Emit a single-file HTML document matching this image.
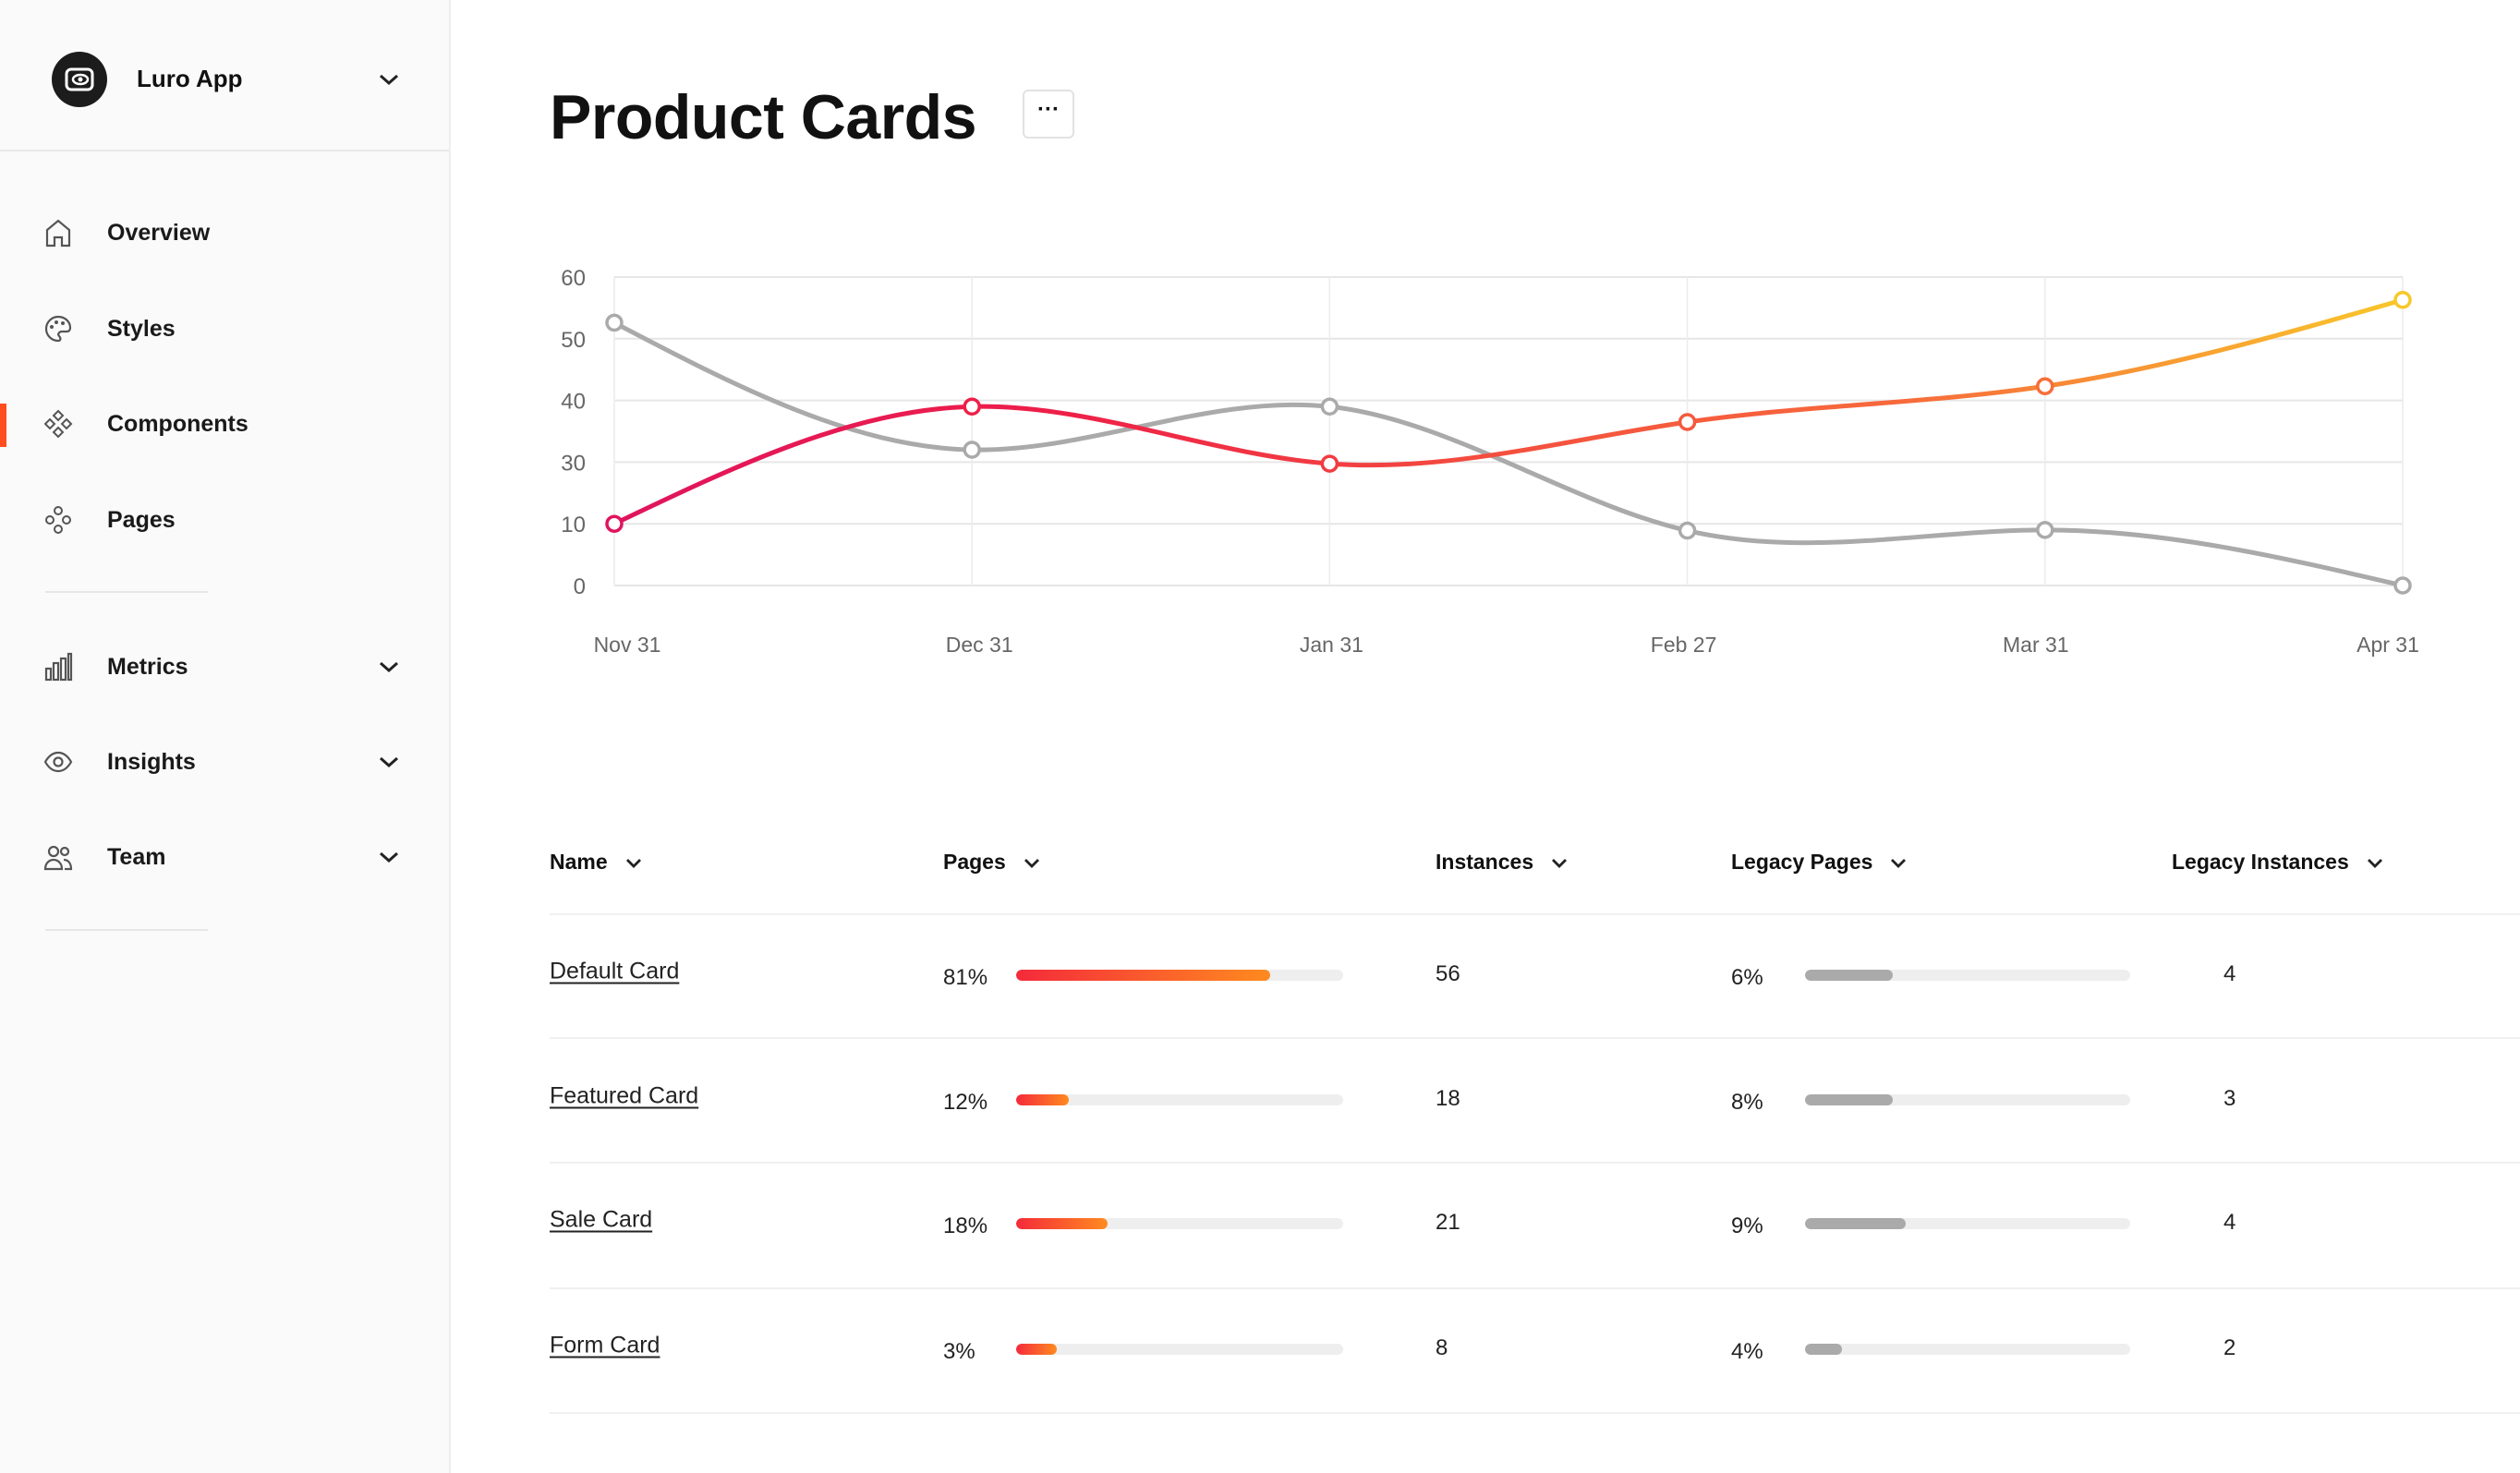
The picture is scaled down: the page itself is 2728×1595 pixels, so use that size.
<!DOCTYPE html>
<html><head><meta charset="utf-8"><style>
*{box-sizing:border-box;margin:0;padding:0}
body{width:2728px;height:1595px;background:#fff;font-family:"Liberation Sans",sans-serif;color:#111;position:relative;overflow:hidden}
.abs{position:absolute}
#sidebar{left:0;top:0;width:488px;height:1595px;background:#fafafa;border-right:2px solid #eee}
.nav{position:absolute;left:0;width:488px;height:60px;display:flex;align-items:center}
.nav svg{position:absolute;left:47px;top:14px}
.nav span{position:absolute;left:116px;font-size:25px;font-weight:bold;color:#1a1a1a}
.chev{position:absolute;left:408px;top:20px}
.div{position:absolute;left:49px;width:176px;height:2px;background:#e6e6e6}
.th{position:absolute;top:920px;font-size:23px;font-weight:bold;color:#111;white-space:nowrap}
.th svg{margin-left:18px;vertical-align:middle}
.rowline{position:absolute;left:595px;right:0;height:2px;background:#f0f0f0}
.cell{position:absolute;font-size:24px;color:#222;transform:translateY(-50%)}
.link{text-decoration:underline;text-underline-offset:4px;font-size:25px}
.track{position:absolute;height:12px;border-radius:6px;background:#eeeeee;overflow:hidden;transform:translateY(-50%)}
.fill{height:100%;border-radius:6px}
</style></head><body>
<div id="sidebar" class="abs">
  <div class="abs" style="left:0;top:162px;width:486px;height:2px;background:#e8e8e8"></div>
  <svg class="abs" style="left:56px;top:56px" width="60" height="60"><circle cx="30" cy="30" r="30" fill="#1c1c1c"/><rect x="16" y="19" width="28" height="22" rx="5" fill="none" stroke="#fff" stroke-width="3"/><ellipse cx="31" cy="30" rx="8" ry="5" fill="none" stroke="#fff" stroke-width="2.5"/><circle cx="31" cy="30" r="2.5" fill="#fff"/></svg>
  <div class="abs" style="left:148px;top:70px;font-size:26px;font-weight:bold">Luro App</div>
  <svg class="abs" style="left:408px;top:78px" width="26" height="16"><path d="M4 4l9 8 9-8" fill="none" stroke="#222" stroke-width="3"/></svg>

  <div class="nav" style="top:222px"><svg width="32" height="32"><path d="M4 30V13L16 3l12 10v17h-8v-9h-8v9z" fill="none" stroke="#555" stroke-width="2.2"/></svg><span>Overview</span></div>
  <div class="nav" style="top:326px"><svg width="32" height="32"><path d="M16 3a13 13 0 1 0 0 26c3 0 3-3 1-5s0-5 3-5h5c3 0 4-2 4-4C29 8 23 3 16 3z" fill="none" stroke="#555" stroke-width="2.2"/><circle cx="9" cy="14" r="2" fill="#555"/><circle cx="14" cy="9" r="2" fill="#555"/><circle cx="21" cy="10" r="2" fill="#555"/></svg><span>Styles</span></div>
  <div class="abs" style="left:0;top:437px;width:7px;height:47px;background:#ff4d1f"></div>
  <div class="nav" style="top:429px"><svg width="32" height="32"><g fill="none" stroke="#555" stroke-width="2"><path d="M16 2l5 5-5 5-5-5z"/><path d="M16 20l5 5-5 5-5-5z"/><path d="M7 11l5 5-5 5-5-5z"/><path d="M25 11l5 5-5 5-5-5z"/></g></svg><span>Components</span></div>
  <div class="nav" style="top:533px"><svg width="32" height="32"><g fill="none" stroke="#555" stroke-width="2"><circle cx="16" cy="6" r="4"/><circle cx="16" cy="26" r="4"/><circle cx="7" cy="16" r="4"/><circle cx="25" cy="16" r="4"/></g></svg><span>Pages</span></div>
  <div class="div" style="top:640px"></div>
  <div class="nav" style="top:692px"><svg width="32" height="32"><g fill="none" stroke="#555" stroke-width="2.2"><rect x="3" y="18" width="5" height="12"/><rect x="11" y="12" width="5" height="18"/><rect x="19" y="7" width="5" height="23"/><rect x="27" y="2" width="3" height="28"/></g></svg><span>Metrics</span><svg class="chev" style="left:408px;top:22px" width="26" height="16"><path d="M4 4l9 8 9-8" fill="none" stroke="#222" stroke-width="3"/></svg></div>
  <div class="nav" style="top:795px"><svg width="32" height="32"><path d="M2 16c4-7 9-10 14-10s10 3 14 10c-4 7-9 10-14 10S6 23 2 16z" fill="none" stroke="#555" stroke-width="2.2"/><circle cx="16" cy="16" r="4.5" fill="none" stroke="#555" stroke-width="2.2"/></svg><span>Insights</span><svg class="chev" style="left:408px;top:22px" width="26" height="16"><path d="M4 4l9 8 9-8" fill="none" stroke="#222" stroke-width="3"/></svg></div>
  <div class="nav" style="top:898px"><svg width="32" height="32"><g fill="none" stroke="#555" stroke-width="2.2"><circle cx="11" cy="10" r="5"/><path d="M2 29c0-6 4-10 9-10s9 4 9 10z"/><circle cx="23" cy="10" r="4"/><path d="M22 19c5 0 8 4 8 10h-7"/></g></svg><span>Team</span><svg class="chev" style="left:408px;top:22px" width="26" height="16"><path d="M4 4l9 8 9-8" fill="none" stroke="#222" stroke-width="3"/></svg></div>
  <div class="div" style="top:1006px"></div>
</div>

<div class="abs" style="left:595px;top:88px;font-size:68px;font-weight:bold;letter-spacing:-0.5px">Product Cards</div>
<div class="abs" style="left:1107px;top:97px;width:56px;height:53px;border:2px solid #e2e2e2;border-radius:6px;text-align:center;line-height:40px;font-size:24px;font-weight:bold">···</div>

<svg id="chart" class="abs" style="left:0;top:0" width="2728" height="760">
  <defs>
    <linearGradient id="redgrad" gradientUnits="userSpaceOnUse" x1="665" y1="0" x2="2601" y2="0">
      <stop offset="0" stop-color="#e0145e"/><stop offset="0.25" stop-color="#ee1f48"/><stop offset="0.5" stop-color="#f4503e"/><stop offset="0.72" stop-color="#f76a3c"/><stop offset="1" stop-color="#f9c72a"/>
    </linearGradient>
  </defs>
  <g id="grid"></g><g id="lines"></g><g id="labels"></g>
</svg>

<div id="table"></div>

<script>
const categories = ["Nov 31","Dec 31","Jan 31","Feb 27","Mar 31","Apr 31"];
const legacySeries = [52.6, 32, 39, 8.9, 9, 0];
const currentSeries = [10, 39, 29.5, 36.5, 42.3, 56.3];
const yTicks = [0, 10, 30, 40, 50, 60];

const rowNames = ["Default Card","Featured Card","Sale Card","Form Card"];
const pagesPct = [81, 12, 18, 3];
const pagesFill = [0.776, 0.16, 0.28, 0.125];
const instances = [56, 18, 21, 8];
const legacyPct = [6, 8, 9, 4];
const legacyFill = [0.27, 0.27, 0.31, 0.115];
const legacyInstances = [4, 3, 4, 2];

const NS = "http://www.w3.org/2000/svg";
const X0 = 665, X1 = 2601, YB = 634, YT = 300;
function x(i){ return X0 + (X1 - X0) * i / (categories.length - 1); }
function y(v){
  const step = (YB - YT) / (yTicks.length - 1);
  for (let k = 0; k < yTicks.length - 1; k++) {
    if (v <= yTicks[k+1] || k === yTicks.length - 2) {
      const t = (v - yTicks[k]) / (yTicks[k+1] - yTicks[k]);
      return YB - step * (k + t);
    }
  }
}
function mk(tag, attrs, parent){ const e = document.createElementNS(NS, tag); for (const k in attrs) e.setAttribute(k, attrs[k]); parent.appendChild(e); return e; }

const grid = document.getElementById('grid');
yTicks.forEach((t) => {
  const gl = mk('line', {x1: X0, x2: X1, y1: y(t), y2: y(t), stroke: '#e6e6e6', 'stroke-width': 2}, grid);
  
  
  const tl = mk('text', {x: 634, y: y(t) + 9, 'text-anchor': 'end', 'font-size': 24, fill: '#666', 'font-family': 'Liberation Sans, sans-serif'}, grid);
  tl.textContent = t;
  
  
});
categories.forEach((c, i) => {
  const vl = mk('line', {x1: x(i), x2: x(i), y1: YT, y2: YB, stroke: '#ececec', 'stroke-width': 1.5}, grid);
  
  
  const lab = mk('text', {x: x(i) + 14 - i * 6, y: 706, 'text-anchor': 'middle', 'font-size': 23, fill: '#666', 'font-family': 'Liberation Sans, sans-serif'}, document.getElementById('labels'));
  lab.textContent = c;
  
  
});

// natural cubic spline control points (as in d3.curveNatural)
function controlPoints(p){
  const n = p.length - 1, a = new Array(n), b = new Array(n), r = new Array(n);
  a[0] = 0; b[0] = 2; r[0] = p[0] + 2 * p[1];
  for (let i = 1; i < n - 1; ++i) { a[i] = 1; b[i] = 4; r[i] = 4 * p[i] + 2 * p[i + 1]; }
  a[n - 1] = 2; b[n - 1] = 7; r[n - 1] = 8 * p[n - 1] + p[n];
  for (let i = 1; i < n; ++i) { const m = a[i] / b[i - 1]; b[i] -= m; r[i] -= m * r[i - 1]; }
  a[n - 1] = r[n - 1] / b[n - 1];
  for (let i = n - 2; i >= 0; --i) a[i] = (r[i] - a[i + 1]) / b[i];
  b[n - 1] = (p[n] + a[n - 1]) / 2;
  for (let i = 0; i < n - 1; ++i) b[i] = 2 * p[i + 1] - a[i + 1];
  return [a, b];
}
function naturalPath(vals){
  const px = vals.map((v, i) => x(i)), py = vals.map(v => y(v));
  const cx = controlPoints(px), cy = controlPoints(py);
  let d = `M${px[0]},${py[0]}`;
  for (let i = 0; i < px.length - 1; i++) {
    d += `C${cx[0][i]},${cy[0][i]} ${cx[1][i]},${cy[1][i]} ${px[i+1]},${py[i+1]}`;
  }
  return d;
}
const lines = document.getElementById('lines');
const grayLine = mk('path', {d: naturalPath(legacySeries), fill: 'none', stroke: '#aaaaaa', 'stroke-width': 5}, lines);


const redLine = mk('path', {d: naturalPath(currentSeries), fill: 'none', stroke: 'url(#redgrad)', 'stroke-width': 5}, lines);


const gradColors = ['#e0145e', '#ee1f48', '#f13c40', '#f4593d', '#f66e3a', '#f9c72a'];
legacySeries.forEach((v, i) => {
  const c = mk('circle', {cx: x(i), cy: y(v), r: 8, fill: '#fff', stroke: '#aaaaaa', 'stroke-width': 3.5}, lines);
  
  
});
currentSeries.forEach((v, i) => {
  const c = mk('circle', {cx: x(i), cy: y(v), r: 8, fill: '#fff', stroke: gradColors[i], 'stroke-width': 3.5}, lines);
  
  
});

// Table
const table = document.getElementById('table');
const headers = [["Name",595],["Pages",1021],["Instances",1554],["Legacy Pages",1874],["Legacy Instances",2351]];
const chev = '<svg width="20" height="12"><path d="M3 2l7 7 7-7" fill="none" stroke="#222" stroke-width="2.8"/></svg>';
headers.forEach(h => {
  const d = document.createElement('div');
  d.className = 'th'; d.style.left = h[1] + 'px';
  d.innerHTML = h[0] + chev;
  
  
  table.appendChild(d);
});
[989, 1123, 1258, 1394, 1529].forEach(t => {
  const l = document.createElement('div');
  l.className = 'rowline'; l.style.top = t + 'px';
  
  
  table.appendChild(l);
});
const rowY = [1056, 1191, 1325, 1461];
function cell(txt, left, top, cls){
  const d = document.createElement('div');
  d.className = 'cell' + (cls ? ' ' + cls : ''); d.style.left = left + 'px'; d.style.top = top + 'px';
  d.textContent = txt; table.appendChild(d); return d;
}
function bar(left, width, top, frac, bg){
  const tr = document.createElement('div');
  tr.className = 'track'; tr.style.left = left + 'px'; tr.style.width = width + 'px'; tr.style.top = top + 'px';
  const f = document.createElement('div'); f.className = 'fill'; f.style.width = (frac * 100) + '%'; f.style.background = bg;
  tr.appendChild(f); table.appendChild(tr); return tr;
}
rowNames.forEach((n, i) => {
  const yy = rowY[i];
  const a = cell(n, 595, yy - 4, 'link');
  
  
  const p = cell(pagesPct[i] + '%', 1021, yy + 3);
  
  
  const b = bar(1100, 354, yy, pagesFill[i], 'linear-gradient(90deg,#f42a3b,#ff8a1f)');
  
  
  const ins = cell(instances[i], 1554, yy - 1);
  
  
  const lp = cell(legacyPct[i] + '%', 1874, yy + 3);
  
  
  const lb = bar(1954, 352, yy, legacyFill[i], '#aaaaaa');
  
  
  const li = cell(legacyInstances[i], 2407, yy - 1);
  
  
});
</script>
</body></html>
